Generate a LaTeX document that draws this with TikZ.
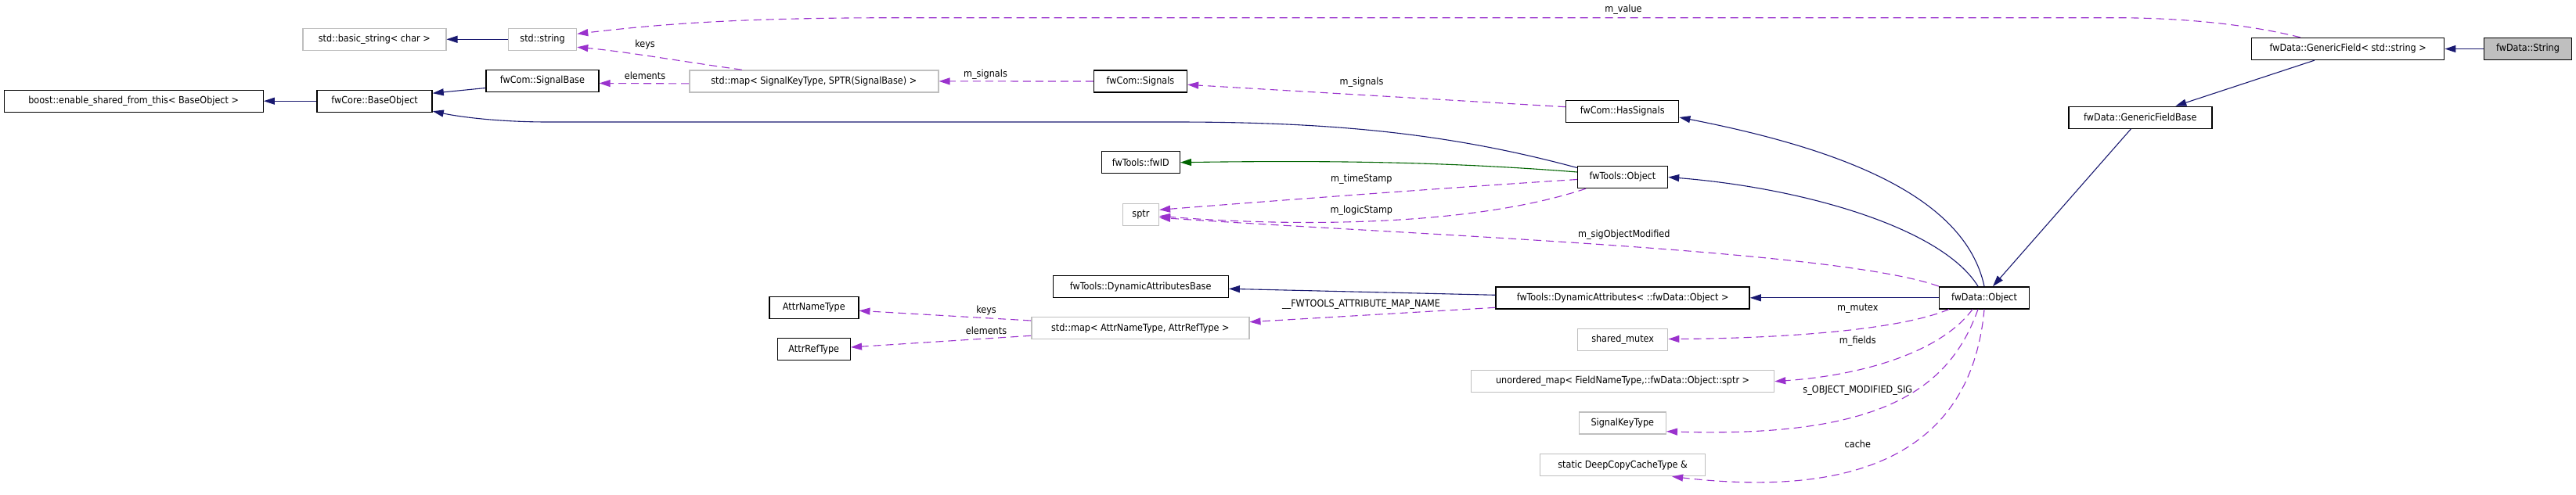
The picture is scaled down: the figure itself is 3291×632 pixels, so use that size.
\documentclass[tikz,border=0pt]{standalone}
\usepackage{fontspec}
\setmainfont{DejaVu Sans Condensed}
\usetikzlibrary{arrows.meta}
\definecolor{inhblue}{HTML}{191970}
\definecolor{usepurple}{HTML}{9A32CD}
\definecolor{tmplgreen}{HTML}{006400}
\definecolor{boxgray}{HTML}{BFBFBF}
\begin{document}
\begin{tikzpicture}[x=1pt,y=-1pt,
  every node/.style={font=\fontsize{12.5}{14}\selectfont},
  cls/.style={draw=black, line width=1.4pt, minimum height=28pt, inner sep=0pt, fill=white},
  ext/.style={draw=boxgray, line width=1.4pt, minimum height=28pt, inner sep=0pt, fill=white},
  inh/.style={draw=inhblue, line width=1.1pt, -{Triangle[length=14pt,width=9pt]}},
  usage/.style={draw=usepurple, line width=1.1pt, dash pattern=on 10pt off 6pt, -{Triangle[length=14pt,width=9pt]}},
  tmpl/.style={draw=tmplgreen, line width=1.1pt, -{Triangle[length=14pt,width=9pt]}},
  lbl/.style={inner sep=0pt}]
\useasboundingbox (0,0) rectangle (3291,632);

% nodes
\node[ext, minimum width=183pt] (bstr) at (478.3,50.3) {std::basic\_string< char >};
\node[ext, minimum width=87pt] (str) at (693.1,50.3) {std::string};
\node[cls, minimum width=144pt] (sigbase) at (692.9,103.5) {fwCom::SignalBase};
\node[cls, minimum width=331pt] (boost) at (170.7,129.2) {boost::enable\_shared\_from\_this< BaseObject >};
\node[cls, minimum width=147pt] (baseobj) at (478.6,129.2) {fwCore::BaseObject};
\node[ext, minimum width=318pt] (sigmap) at (1039.8,103.9) {std::map< SignalKeyType, SPTR(SignalBase) >};
\node[cls, minimum width=119pt] (signals) at (1457,104) {fwCom::Signals};
\node[cls, minimum width=100pt] (fwid) at (1457.3,207.7) {fwTools::fwID};
\node[ext, minimum width=46pt] (sptr) at (1457.4,274.3) {sptr};
\node[cls, minimum width=144pt] (hassig) at (2072.7,142.3) {fwCom::HasSignals};
\node[cls, minimum width=115pt] (toolsobj) at (2073,226.5) {fwTools::Object};
\node[cls, minimum width=224pt] (dab) at (1457.2,366.7) {fwTools::DynamicAttributesBase};
\node[cls, minimum width=114pt] (attrname) at (1039.8,393.3) {AttrNameType};
\node[cls, minimum width=93pt] (attrref) at (1039.8,446.7) {AttrRefType};
\node[ext, minimum width=278pt] (attrmap) at (1456.8,419.7) {std::map< AttrNameType, AttrRefType >};
\node[cls, minimum width=324pt] (dynattr) at (2073.1,380.8) {fwTools::DynamicAttributes< ::fwData::Object >};
\node[cls, minimum width=115pt] (dataobj) at (2535,380.8) {fwData::Object};
\node[ext, minimum width=115pt] (shmutex) at (2073.1,434.5) {shared\_mutex};
\node[ext, minimum width=387pt] (umap) at (2073.1,487.7) {unordered\_map< FieldNameType,::fwData::Object::sptr >};
\node[ext, minimum width=111pt] (sigkey) at (2072.8,541) {SignalKeyType};
\node[ext, minimum width=211pt] (dcache) at (2073.1,594.7) {static DeepCopyCacheType \&};
\node[cls, minimum width=246pt] (gfield) at (2999.7,62.5) {fwData::GenericField< std::string >};
\node[cls, minimum width=183pt] (gfbase) at (2734.3,150.3) {fwData::GenericFieldBase};
\node[cls, minimum width=112pt, fill=boxgray] (dstring) at (3229.5,62.5) {fwData::String};

% inheritance
\draw[inh] (dstring.west) -- (gfield.east);
\draw[inh] ([xshift=-43pt]gfield.south) -- ([xshift=45pt]gfbase.north);
\draw[inh] ([xshift=-12pt]gfbase.south) -- ([xshift=11pt]dataobj.north);
\draw[inh] (str.west) -- (bstr.east);
\draw[inh] (baseobj.west) -- (boost.east);
\draw[inh] ([yshift=-9pt]sigbase.west) -- ([yshift=10pt]baseobj.east);
\draw[inh] ([yshift=12pt]toolsobj.west) .. controls (1850,170) and (1700,156) .. (1500,156) -- (700,156) .. controls (640,156) and (590,150) .. ([yshift=-13pt]baseobj.east);
\draw[tmpl] ([yshift=6.5pt]toolsobj.west) .. controls (1850,207) and (1700,205) .. (fwid.east);
\draw[inh] ([xshift=-8pt]dataobj.north) .. controls (2480,290) and (2300,240) .. (toolsobj.east);
\draw[inh] (dataobj.north) .. controls (2510,250) and (2350,190) .. ([yshift=-7.7pt]hassig.east);
\draw[inh] (dataobj.west) -- (dynattr.east);
\draw[inh] ([yshift=3.5pt]dynattr.west) -- ([yshift=-2.6pt]dab.east);

% usage
\draw[usage] ([xshift=-61pt]gfield.north) .. controls (2900,38) and (2820,22.7) .. (2700,22.7) -- (1150,22.7) .. controls (950,22.7) and (850,30) .. ([yshift=7pt]str.east);
\node[lbl] (lvalue) at (2074,12.7) {m\_value};
\draw[usage] ([xshift=-92pt]sigmap.north) .. controls (880,80) and (800,66) .. ([yshift=-10pt]str.east);
\node[lbl] (lkeys1) at (824,56.7) {keys};
\draw[usage] ([yshift=-3pt]sigmap.west) -- ([yshift=-3pt]sigbase.east);
\node[lbl] (lelem1) at (824,96.7) {elements};
\draw[usage] (signals.west) -- (sigmap.east);
\node[lbl] (lsig1) at (1259,95) {m\_signals};
\draw[usage] ([yshift=5.6pt]hassig.west) -- ([yshift=-4.3pt]signals.east);
\node[lbl] (lsig2) at (1739.5,105) {m\_signals};
\draw[usage] ([yshift=-3pt]toolsobj.west) .. controls (1850,240) and (1650,255) .. ([yshift=6pt]sptr.east);
\node[lbl] (lts) at (1739.3,229.3) {m\_timeStamp};
\draw[usage] ([xshift=-47pt]toolsobj.south) .. controls (1880,290) and (1650,290) .. ([yshift=-2pt]sptr.east);
\node[lbl] (lls) at (1739.3,269) {m\_logicStamp};
\draw[usage] (dataobj.north west) .. controls (2350,320) and (1800,300) .. ([yshift=-4pt]sptr.east);
\node[lbl] (lsom) at (2074.8,300.7) {m\_sigObjectModified};
\draw[usage] ([yshift=-12.5pt]dynattr.west) -- ([yshift=8pt]attrmap.east);
\node[lbl] (lfw) at (1739,389.3) {\_\_FWTOOLS\_ATTRIBUTE\_MAP\_NAME};
\draw[usage] ([yshift=9.7pt]attrmap.west) -- ([yshift=-4pt]attrname.east);
\node[lbl] (lkeys2) at (1260,396.7) {keys};
\draw[usage] ([yshift=-9.6pt]attrmap.west) -- ([yshift=2.7pt]attrref.east);
\node[lbl] (lelem2) at (1260,422.7) {elements};
\draw[usage] ([xshift=-45pt]dataobj.south) .. controls (2420,425) and (2250,433) .. ([yshift=1pt]shmutex.east);
\node[lbl] (lmutex) at (2373.3,395) {m\_mutex};
\draw[usage] ([xshift=-15pt]dataobj.south) .. controls (2480,450) and (2380,480) .. (umap.east);
\node[lbl] (lfields) at (2373.3,436.7) {m\_fields};
\draw[usage] ([xshift=-8pt]dataobj.south) .. controls (2490,500) and (2400,560) .. ([yshift=-10.7pt]sigkey.east);
\node[lbl] (lsoms) at (2373.3,499.3) {s\_OBJECT\_MODIFIED\_SIG};
\draw[usage] (dataobj.south) .. controls (2520,560) and (2400,640) .. ([xshift=63pt]dcache.south);
\node[lbl] (lcache) at (2373.3,567.7) {cache};
\end{tikzpicture}
\end{document}
